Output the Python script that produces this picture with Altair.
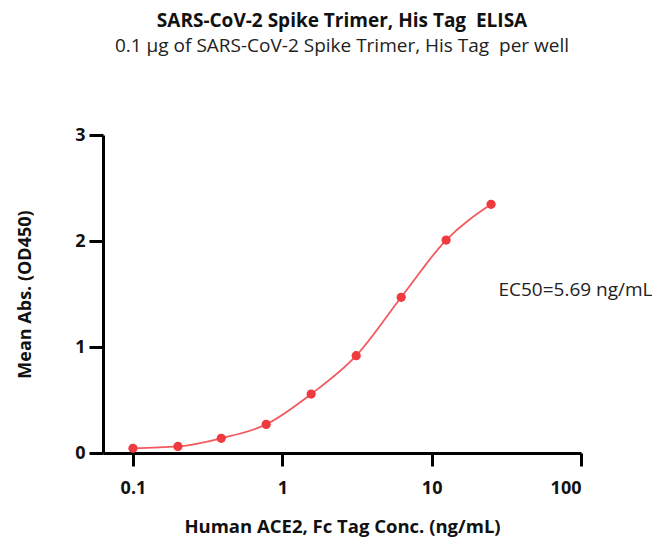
import altair as alt
import pandas as pd

conc = [0.1, 0.2, 0.39, 0.78, 1.56, 3.125, 6.25, 12.5, 25]
absorb = [0.044, 0.062, 0.139, 0.27, 0.556, 0.918, 1.469, 2.009, 2.346]

ann_text = ["EC50=5.69 ng/mL"]
ann_x = [28]
ann_y = [1.54]

df = pd.DataFrame({"conc": conc, "abs": absorb})
ann = pd.DataFrame({"t": ann_text, "x": ann_x, "y": ann_y})

FONT = "Open Sans"
RED = "#EF3A40"

xs = alt.Scale(type="log", domain=[0.063, 100])
ys = alt.Scale(domain=[0, 3])

xaxis = alt.Axis(values=[0.1, 1, 10, 100], format="~g", title="Human ACE2, Fc Tag Conc. (ng/mL)",
                 grid=False, domainColor="black", domainWidth=3, tickColor="black", tickWidth=3,
                 tickSize=13, labelFontSize=18, labelFontWeight="bold", labelColor="#111111",
                 labelFont=FONT, labelPadding=13, titleFont=FONT, titleFontSize=18.5, titleFontWeight="bold",
                 titleColor="#111111", titlePadding=20)
yaxis = alt.Axis(values=[0, 1, 2, 3], format="d", title="Mean Abs. (OD450)", grid=False, domainColor="black",
                 domainWidth=3, tickColor="black", tickWidth=3, tickSize=14, labelFontSize=18,
                 labelFontWeight="bold", labelColor="#111111", labelFont=FONT, labelPadding=4,
                 titleFont=FONT, titleFontSize=18, titleFontWeight="bold", titleColor="#111111",
                 titlePadding=40)

base = alt.Chart(df)
line = base.mark_line(color="#F25A5E", strokeWidth=1.8, interpolate="monotone").encode(
    x=alt.X("conc:Q", scale=xs, axis=xaxis),
    y=alt.Y("abs:Q", scale=ys, axis=yaxis),
)
pts = base.mark_circle(color=RED, size=85, opacity=1).encode(
    x=alt.X("conc:Q", scale=xs), y=alt.Y("abs:Q", scale=ys)
)
txt = alt.Chart(ann).mark_text(align="left", baseline="middle", font=FONT, fontSize=19,
                               color="#222222").encode(
    x=alt.X("x:Q", scale=xs), y=alt.Y("y:Q", scale=ys), text="t:N"
)

chart = (line + pts + txt).properties(
    width=478, height=318,
    background="white",
    title=alt.TitleParams(
        text="SARS-CoV-2 Spike Trimer, His Tag\u00a0 ELISA",
        subtitle="0.1 µg of SARS-CoV-2 Spike Trimer, His Tag\u00a0 per well",
        font=FONT, fontSize=19, fontWeight="bold", color="#111111",
        subtitleFont=FONT, subtitleFontSize=19, subtitleColor="#222222",
        subtitlePadding=6, offset=70, anchor="middle",
    ),
    autosize=alt.AutoSizeParams(type="none"),
    padding={"left": 95, "top": 127, "right": 71, "bottom": 84},
).configure_view(strokeWidth=0, stroke=None)

chart.save("out.html", embed_options={"renderer": "svg", "actions": False})
